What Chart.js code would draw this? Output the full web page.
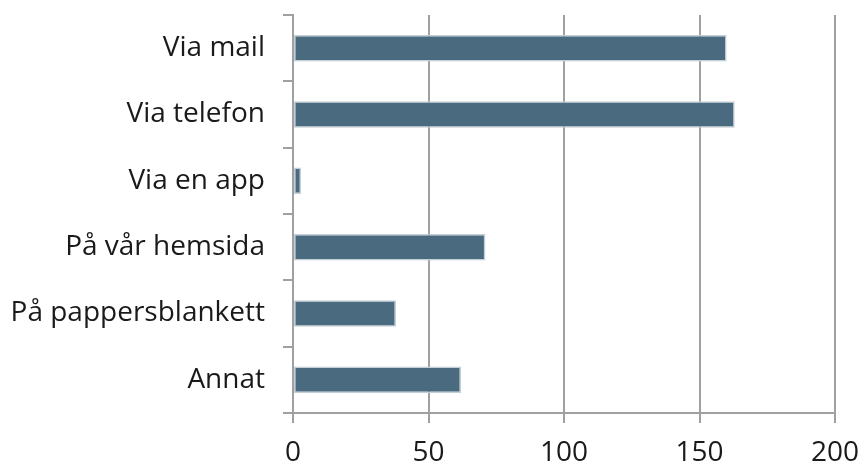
<!DOCTYPE html>
<html>
<head>
<meta charset="utf-8">
<title>Kanaler</title>
<script src="https://cdn.jsdelivr.net/npm/chart.js@4"></script>
<style>
  html, body { margin: 0; padding: 0; background: #fff; }
  #wrap { width: 864px; height: 463px; }
</style>
</head>
<body>
<div id="wrap"><canvas id="myChart" width="864" height="463"></canvas></div>
<script>
    // Data
    const categories = ["Via mail", "Via telefon", "Via en app", "På vår hemsida", "På pappersblankett", "Annat"];
    const values = [160, 163, 3, 71, 38, 62];
    const xTicks = [0, 50, 100, 150, 200];

    const gridColor = "#a0a0a0";
    const labelFont = { family: "'Open Sans', sans-serif", size: 28 };

    new Chart("myChart", {
        type: "bar",
        data: {
            labels: categories,
            datasets: [{
                data: values,
                backgroundColor: "#4a6a80",
                borderColor: "#c3ced5",
                borderWidth: 1.5,
                borderSkipped: false,
                barPercentage: 0.4,
                categoryPercentage: 1
            }]
        },
        options: {
            indexAxis: "y",
            responsive: false,
            animation: false,
            layout: { padding: { left: 0, right: 29, top: 15, bottom: 0 } },
            plugins: {
                legend: { display: false },
                tooltip: { enabled: false }
            },
            scales: {
                x: {
                    min: 0,
                    max: 200,
                    afterBuildTicks: function(axis) {
                        axis.ticks = xTicks.map(v => ({ value: v }));
                    },
                    afterFit: function(axis) {
                        axis.height = 50;
                        axis.paddingLeft = 0;
                        axis.paddingRight = 0;
                    },
                    grid: {
                        color: gridColor,
                        lineWidth: 2,
                        tickLength: 10,
                        drawOnChartArea: true
                    },
                    border: { color: gridColor, width: 2 },
                    ticks: {
                        color: "#1a1a1a",
                        padding: 13,
                        maxRotation: 0,
                        font: labelFont
                    }
                },
                y: {
                    afterFit: function(axis) {
                        axis.width = 293;
                        axis.paddingTop = 0;
                        axis.paddingBottom = 0;
                    },
                    grid: {
                        color: gridColor,
                        lineWidth: 2,
                        tickLength: 10,
                        drawOnChartArea: false,
                        offset: true
                    },
                    border: { color: gridColor, width: 2 },
                    ticks: {
                        color: "#1a1a1a",
                        padding: 18,
                        font: labelFont
                    }
                }
            }
        }
    });
</script>
</body>
</html>
